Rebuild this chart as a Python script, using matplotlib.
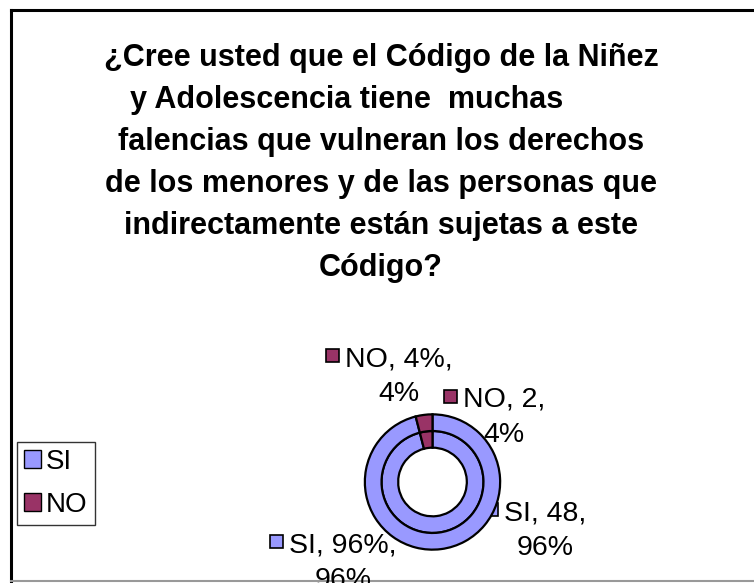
import matplotlib.pyplot as plt
from matplotlib.patches import Patch, Rectangle

categories = ["SI", "NO"]
counts = [48, 2]
percents = [96, 4]
colors = ["#9999FF", "#993366"]

title_lines = [
    "¿Cree usted que el Código de la Niñez",
    "y Adolescencia tiene  muchas        ",
    "falencias que vulneran los derechos",
    "de los menores y de las personas que",
    "indirectamente están sujetas a este",
    "Código?",
]

plt.rcParams["font.family"] = ["Liberation Sans", "DejaVu Sans"]

W, H = 754, 583
fig = plt.figure(figsize=(W / 100, H / 100), dpi=100)

# overlay axes in pixel coordinates (y down)
bg = fig.add_axes([0, 0, 1, 1])
bg.set_xlim(0, W)
bg.set_ylim(H, 0)
bg.axis("off")

# chart border (cropped on the right)
bg.plot([11, 11], [10, 581], color="black", lw=2.2)
bg.plot([11, W], [10, 10], color="black", lw=2.2)
bg.plot([11, W], [581, 581], color="#999999", lw=1.5)

for i, line in enumerate(title_lines):
    bg.text(381, 66 + i * 42, line, ha="center", va="baseline",
            fontsize=22, fontweight="bold")

# donut
cx, cy, R = 432.5, 482, 69
ax = fig.add_axes([(cx - R) / W, (H - cy - R) / H, 2 * R / W, 2 * R / H])
wedge_kw = dict(edgecolor="black", linewidth=1.6)
ax.pie(counts, radius=52 / 69, colors=colors, startangle=90,
       counterclock=False, wedgeprops=dict(width=17 / 69, **wedge_kw))
ax.pie(percents, radius=1.0, colors=colors, startangle=90,
       counterclock=False, wedgeprops=dict(width=17 / 69, **wedge_kw))
ax.set_xlim(-1.02, 1.02)
ax.set_ylim(-1.02, 1.02)
ax.set_aspect("equal")

# data labels: (text lines, color, text center x, first baseline y)
labels = [
    ([f"{categories[1]}, {percents[1]}%,", f"{percents[1]}%"], colors[1], 399, 366),
    ([f"{categories[1]}, {counts[1]},", f"{round(100 * counts[1] / sum(counts))}%"], colors[1], 504, 407),
    ([f"{categories[0]}, {counts[0]},", f"{round(100 * counts[0] / sum(counts))}%"], colors[0], 545, 520),
    ([f"{categories[0]}, {percents[0]}%,", f"{percents[0]}%"], colors[0], 343, 552),
]
fig.canvas.draw()
renderer = fig.canvas.get_renderer()
for lines, col, x, y in labels:
    t = None
    for j, ln in enumerate(lines):
        tt = bg.text(x, y + j * 35, ln, ha="center", va="baseline", fontsize=20.5)
        if j == 0:
            t = tt
    bb = t.get_window_extent(renderer)
    left = bb.x0
    ks = 13
    bg.add_patch(Rectangle((left - 6 - ks, y - 17), ks, ks,
                           facecolor=col, edgecolor="black", lw=1.2, zorder=5))

handles = [Patch(facecolor=c, edgecolor="black", label=n) for c, n in zip(colors, categories)]
leg = bg.legend(handles=handles, loc="upper left",
                bbox_to_anchor=(17 / W, 1 - 442 / H), bbox_transform=fig.transFigure,
                fontsize=20, frameon=True, fancybox=False, handlelength=0.6,
                handleheight=0.6, handletextpad=0.2, borderpad=0.25,
                labelspacing=0.6, borderaxespad=0)
leg.get_frame().set_edgecolor("black")
leg.get_frame().set_linewidth(1.0)

fig.savefig("out.png", dpi=100)
